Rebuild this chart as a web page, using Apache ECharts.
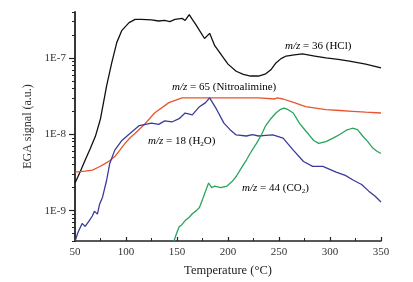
<!DOCTYPE html>
<html>
<head>
<meta charset="utf-8">
<script src="https://cdn.jsdelivr.net/npm/echarts@6/dist/echarts.min.js"></script>
<style>
  html, body { margin: 0; padding: 0; background: #fff; }
  #main { width: 413px; height: 282px; }
</style>
</head>
<body>
<div id="main"></div>
<script>
// temperature (°C) and EGA signal (a.u.)
var hclT = [50, 55, 60, 65, 70, 75, 81, 86, 91, 96, 103, 109, 115, 125, 132, 138, 143, 148, 155, 158, 162, 165, 168, 172, 177, 182, 187, 194, 200, 208, 215, 222, 230, 237, 242, 247, 252, 257, 265, 273, 285, 296, 308, 319, 335, 342, 350];
var hclV = [2.3e-9, 3.2e-9, 4.6e-9, 6.5e-9, 9.4e-9, 1.6e-8, 4.3e-8, 8.6e-8, 1.6e-7, 2.3e-7, 2.9e-7, 3.2e-7, 3.2e-7, 3.15e-7, 3.05e-7, 3.1e-7, 3.0e-7, 3.2e-7, 3.3e-7, 3.1e-7, 3.7e-7, 3.2e-7, 2.8e-7, 2.3e-7, 1.8e-7, 2.1e-7, 1.45e-7, 1.07e-7, 8.3e-8, 6.7e-8, 6.1e-8, 5.8e-8, 5.8e-8, 6.2e-8, 7.0e-8, 8.6e-8, 9.8e-8, 1.06e-7, 1.1e-7, 1.13e-7, 1.06e-7, 1.0e-7, 9.6e-8, 9.1e-8, 8.3e-8, 7.9e-8, 7.4e-8];

var nitroT = [50, 60, 67, 73, 79, 84, 89, 94, 99, 104, 109, 117, 128, 142, 155, 170, 190, 210, 230, 246, 248, 254, 265, 276, 286, 296, 310, 322, 335, 350];
var nitroV = [3.2e-9, 3.3e-9, 3.4e-9, 3.7e-9, 4.1e-9, 4.5e-9, 5.1e-9, 6.2e-9, 7.6e-9, 9.0e-9, 1.03e-8, 1.3e-8, 1.9e-8, 2.6e-8, 3.0e-8, 3.0e-8, 3.0e-8, 3.0e-8, 3.0e-8, 2.9e-8, 3.0e-8, 2.9e-8, 2.6e-8, 2.3e-8, 2.2e-8, 2.1e-8, 2.05e-8, 2.0e-8, 1.95e-8, 1.9e-8];

var waterT = [50, 53, 57, 60, 64, 67, 69, 72, 74, 77, 81, 84, 89, 96, 103, 113, 125, 132, 138, 145, 152, 158, 165, 172, 178, 182, 189, 196, 202, 208, 218, 224, 230, 237, 244, 254, 264, 274, 283, 293, 306, 315, 323, 331, 338, 344, 350];
var waterV = [4.0e-10, 5.2e-10, 6.8e-10, 6.2e-10, 7.4e-10, 8.5e-10, 9.8e-10, 9.0e-10, 1.2e-9, 1.5e-9, 2.5e-9, 4.1e-9, 6.2e-9, 8.3e-9, 1.0e-8, 1.3e-8, 1.4e-8, 1.35e-8, 1.5e-8, 1.45e-8, 1.6e-8, 1.9e-8, 1.8e-8, 2.3e-8, 2.6e-8, 3.0e-8, 2.1e-8, 1.4e-8, 1.15e-8, 9.8e-9, 9.5e-9, 9.9e-9, 9.5e-9, 9.7e-9, 9.8e-9, 8.9e-9, 6.2e-9, 4.4e-9, 3.8e-9, 3.8e-9, 3.2e-9, 2.9e-9, 2.5e-9, 2.2e-9, 1.8e-9, 1.55e-9, 1.3e-9];

var co2T = [147, 150, 152, 155, 158, 162, 165, 169, 172, 175, 178, 181, 184, 187, 193, 199, 204, 208, 213, 218, 223, 228, 233, 237, 242, 247, 251, 255, 259, 264, 270, 274, 279, 284, 289, 296, 303, 310, 316, 322, 327, 332, 337, 342, 346, 350];
var co2V = [4.0e-10, 5.2e-10, 6.1e-10, 6.6e-10, 7.4e-10, 8.2e-10, 9.1e-10, 1.0e-9, 1.1e-9, 1.4e-9, 1.8e-9, 2.3e-9, 2.0e-9, 2.1e-9, 2.0e-9, 2.1e-9, 2.4e-9, 2.8e-9, 3.6e-9, 4.6e-9, 6.0e-9, 7.6e-9, 1.0e-8, 1.3e-8, 1.6e-8, 1.9e-8, 2.1e-8, 2.2e-8, 2.1e-8, 1.9e-8, 1.4e-8, 1.2e-8, 1.0e-8, 8.3e-9, 7.6e-9, 8.0e-9, 8.9e-9, 1.0e-8, 1.13e-8, 1.2e-8, 1.15e-8, 9.5e-9, 8.0e-9, 6.6e-9, 6.0e-9, 5.6e-9];

var xTicks = [50, 100, 150, 200, 250, 300, 350];
var yMajor = [1e-9, 1e-8, 1e-7];
var yMinor = [4e-10, 5e-10, 6e-10, 7e-10, 8e-10, 9e-10,
  2e-9, 3e-9, 4e-9, 5e-9, 6e-9, 7e-9, 8e-9, 9e-9,
  2e-8, 3e-8, 4e-8, 5e-8, 6e-8, 7e-8, 8e-8, 9e-8,
  2e-7, 3e-7, 4e-7];

function pairs(t, v) {
  return t.map(function (x, i) { return [x, v[i]]; });
}

var serif = "Liberation Serif";
var chart = echarts.init(document.getElementById("main"));

function line(name, t, v, color) {
  return {
    name: name,
    type: "line",
    data: pairs(t, v),
    showSymbol: false,
    smooth: false,
    lineStyle: { color: color, width: 1.3 },
    z: 3
  };
}

var rich = {
  i: { fontFamily: serif, fontSize: 11, fontStyle: "italic", color: "#222" },
  n: { fontFamily: serif, fontSize: 11, color: "#222" },
  s: { fontFamily: serif, fontSize: 7, color: "#222", padding: [6, 0, 0, 0] }
};

function note(x, y, txt) {
  return { type: "text", left: x, top: y, style: { text: txt, rich: rich } };
}

chart.setOption({
  animation: false,
  grid: { left: 75, right: 32, top: 12, bottom: 39 },
  xAxis: {
    type: "value",
    min: 50,
    max: 350,
    interval: 50,
    name: "Temperature (°C)",
    nameLocation: "middle",
    nameGap: 23,
    nameTextStyle: { fontFamily: serif, fontSize: 12.5, color: "#222" },
    axisLine: { lineStyle: { color: "#222", width: 1.6 } },
    axisTick: { inside: true, length: 4, lineStyle: { color: "#222", width: 1.2 } },
    minorTick: { show: true, splitNumber: 2, length: 3, lineStyle: { color: "#222", width: 1 } },
    axisLabel: { fontFamily: serif, fontSize: 11, color: "#333", margin: 6 },
    splitLine: { show: false }
  },
  yAxis: [{
    type: "log",
    min: 4e-10,
    max: 4e-7,
    name: "EGA signal (a.u.)",
    nameLocation: "middle",
    nameGap: 33,
    nameTextStyle: { fontFamily: serif, fontSize: 12, color: "#333" },
    axisLine: { lineStyle: { color: "#222", width: 1.8 } },
    axisTick: { length: 6, customValues: yMajor, lineStyle: { color: "#222", width: 1.2 } },
    axisLabel: {
      customValues: yMajor,
      fontFamily: serif, fontSize: 11, color: "#333", margin: 9,
      formatter: function (v) { return "1E" + Math.round(Math.log10(v)); }
    },
    splitLine: { show: false }
  }, {
    type: "log",
    min: 4e-10,
    max: 4e-7,
    position: "left",
    axisLine: { show: false },
    axisTick: { length: 3, customValues: yMinor, lineStyle: { color: "#222", width: 1 } },
    axisLabel: { show: false },
    splitLine: { show: false }
  }],
  series: [
    line("m/z = 36 (HCl)", hclT, hclV, "#111111"),
    line("m/z = 65 (Nitroalimine)", nitroT, nitroV, "#e8542c"),
    line("m/z = 18 (H2O)", waterT, waterV, "#3b3b9c"),
    line("m/z = 44 (CO2)", co2T, co2V, "#2aa35c")
  ],
  graphic: [
    note(285, 41, "{i|m/z}{n| = 36 (HCl)}"),
    note(172, 82, "{i|m/z}{n| = 65 (Nitroalimine)}"),
    note(148, 136, "{i|m/z}{n| = 18 (H}{s|2}{n|O)}"),
    note(242, 183, "{i|m/z}{n| = 44 (CO}{s|2}{n|)}")
  ]
});
</script>
</body>
</html>
